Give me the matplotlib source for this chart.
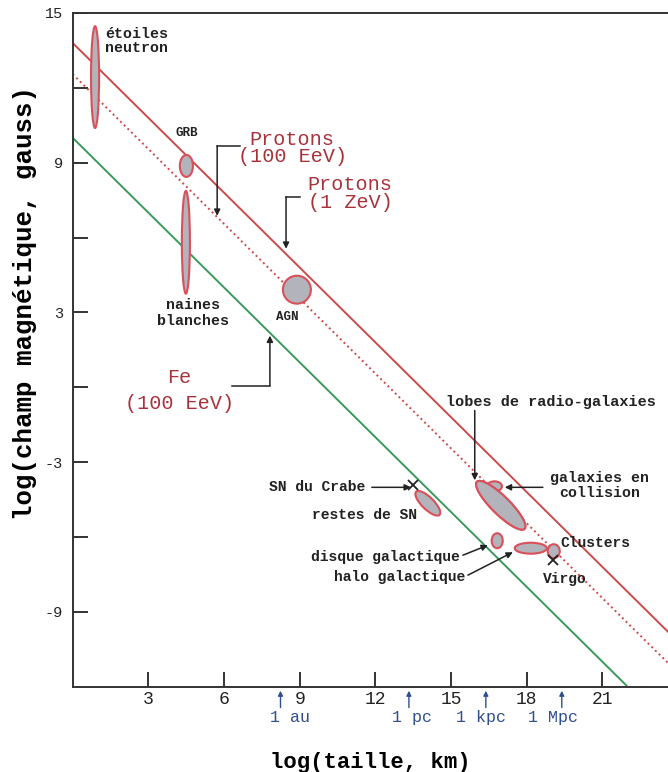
import numpy as np
import matplotlib.pyplot as plt
from matplotlib.patches import Ellipse

plt.rcParams['font.family'] = ['Liberation Mono', 'DejaVu Sans Mono']
plt.rcParams['axes.unicode_minus'] = False

# limits lines: log B = c - log L
line_c = [13.8, 12.55, 10.0]
line_xend = [23.6, 23.6, 21.95]
line_col = ['#cc4a4a', '#cc4a4a', '#3a9a5c']
line_ls = ['-', ':', '-']

# sources (log size, log B, widths, heights, tilt)
src_x = [0.89, 4.51, 4.49, 8.89, 14.08, 16.72, 16.97, 16.83, 18.16, 19.07]
src_y = [12.43, 8.87, 5.81, 3.91, -4.65, -3.97, -4.73, -6.15, -6.45, -6.57]
src_w = [0.32, 0.52, 0.32, 1.11, 1.31, 0.60, 2.67, 0.44, 1.27, 0.48]
src_h = [4.08, 0.88, 4.12, 1.12, 0.48, 0.40, 0.72, 0.60, 0.44, 0.56]
src_a = [0, 0, 0, 0, -45, 0, -45, 0, 0, 0]

cross_x = [13.49, 19.03]
cross_y = [-3.93, -6.93]

# plain labels: text, x, y, ha, size, line spacing
lab_txt = ['étoiles\nneutron', 'GRB', 'naines\nblanches', 'AGN', 'restes de SN',
           'lobes de radio-galaxies', 'galaxies en\ncollision', 'Clusters', 'Virgo']
lab_x = [1.29, 4.54, 4.77, 8.5, 11.58, 18.96, 20.9, 19.35, 19.51]
lab_y = [13.87, 10.19, 2.99, 2.83, -5.13, -0.61, -3.93, -6.25, -7.69]
lab_ha = ['left', 'center', 'center', 'center', 'center', 'center', 'center', 'left', 'center']
lab_fs = [10.8, 9, 10.8, 9, 10.5, 10.9, 10.8, 10.5, 10.5]
lab_ls = [1.0, 1.0, 1.2, 1.0, 1.0, 1.0, 1.05, 1.0, 1.0]

# labels with arrows: text, text end x, y, arrow tail, arrow head
arr_txt = ['SN du Crabe', 'disque galactique', 'halo galactique']
arr_tx = [11.59, 15.35, 15.55]
arr_ty = [-4.01, -6.81, -7.61]
arr_from = [(11.86, -4.01), (15.47, -6.73), (15.67, -7.53)]
arr_to = [(13.41, -4.01), (16.46, -6.33), (17.45, -6.61)]

# plain arrows (lobes, collision)
parr_from = [(15.94, -0.93), (18.64, -4.01)]
parr_to = [(15.94, -3.73), (17.13, -4.01)]

# red labels with elbow arrows
red_txt = ['Protons\n(100 EeV)', 'Protons\n(1 ZeV)', 'Fe\n(100 EeV)']
red_x = [8.7, 11.0, 4.22]
red_y = [9.59, 7.77, -0.13]
red_ls = [0.9, 0.9, 1.45]
elb_x0 = [6.64, 9.01, 6.30]
elb_x = [5.73, 8.46, 7.82]
elb_y = [9.67, 7.63, 0.07]
elb_tip = [6.87, 5.55, 2.07]

# distance units
unit_txt = ['1 au', '1 pc', '1 kpc', '1 Mpc']
unit_pos = [8.24, 13.33, 16.38, 19.39]
unit_lab = [8.61, 13.44, 16.18, 19.03]

fig = plt.figure(figsize=(6.68, 7.72), dpi=100)
ax = fig.add_axes([0.1087, 0.1105, 0.8913, 0.8727])
ax.set_xlim(0, 23.6)
ax.set_ylim(-12, 14.95)

for c, xe, col, ls in zip(line_c, line_xend, line_col, line_ls):
    ax.plot([0, xe], [c, c - xe], color=col, ls=ls, lw=1.4, zorder=2)

for x, y, w, h, a in zip(src_x, src_y, src_w, src_h, src_a):
    ax.add_patch(Ellipse((x, y), w, h, angle=a, fc='#b3b3bb', ec='#d9505a', lw=1.5, zorder=3))
# lobes drawn over the collision blob
ax.add_patch(Ellipse((src_x[6], src_y[6]), src_w[6], src_h[6], angle=-45,
                     fc='#b3b3bb', ec='#d9505a', lw=1.5, zorder=4))

ax.plot(cross_x, cross_y, 'x', color='#222222', ms=7, mew=1.3, zorder=5)

for t, x, y, ha, fs, ls in zip(lab_txt, lab_x, lab_y, lab_ha, lab_fs, lab_ls):
    ax.text(x, y, t, ha=ha, va='center', fontsize=fs, fontweight='bold',
            color='#222222', linespacing=ls, zorder=6)

for t, x, y, p0, p1 in zip(arr_txt, arr_tx, arr_ty, arr_from, arr_to):
    ax.text(x, y, t, ha='right', va='center', fontsize=10.5, fontweight='bold',
            color='#222222', zorder=6)
    ax.annotate('', xy=p1, xytext=p0,
                arrowprops=dict(arrowstyle='-|>', color='#222222', lw=1.1,
                                mutation_scale=9, shrinkA=0, shrinkB=0))

for p0, p1 in zip(parr_from, parr_to):
    ax.annotate('', xy=p1, xytext=p0,
                arrowprops=dict(arrowstyle='-|>', color='#222222', lw=1.1,
                                mutation_scale=9, shrinkA=0, shrinkB=0))

for t, x, y, ls, x0, xe, ye, yt in zip(red_txt, red_x, red_y, red_ls,
                                        elb_x0, elb_x, elb_y, elb_tip):
    ax.text(x, y, t, ha='center', va='center', fontsize=14.5, color='#a8323a',
            linespacing=ls, zorder=6)
    ax.plot([x0, xe], [ye, ye], color='#222222', lw=1.1, zorder=5)
    ax.annotate('', xy=(xe, yt), xytext=(xe, ye),
                arrowprops=dict(arrowstyle='-|>', color='#222222', lw=1.1,
                                mutation_scale=9, shrinkA=0, shrinkB=0))

trans = ax.get_xaxis_transform()
for t, xp, xl in zip(unit_txt, unit_pos, unit_lab):
    ax.annotate('', xy=(xp, -0.006), xytext=(xp, -0.031), xycoords=trans, textcoords=trans,
                arrowprops=dict(arrowstyle='-|>', color='#2f4f8f', lw=1.0,
                                mutation_scale=7, shrinkA=0, shrinkB=0),
                annotation_clip=False)
    ax.text(xl, -0.046, t, transform=trans, ha='center', va='center',
            fontsize=12, color='#2f4f8f')

ax.set_xticks([3, 6, 9, 12, 15, 18, 21])
ax.set_yticks([15, 9, 3, -3, -9])
ax.set_yticks([12, 6, 0, -6], minor=True)
ax.tick_params(which='both', direction='in', length=11, width=1.4, color='#333333',
               labelcolor='#222222')
ax.tick_params(axis='x', pad=3, labelsize=13)
ax.tick_params(axis='y', pad=7, labelsize=11)
ax.spines['right'].set_visible(False)
for s in ['left', 'bottom', 'top']:
    ax.spines[s].set_linewidth(1.4)
    ax.spines[s].set_color('#333333')

ax.set_xlabel('log(taille, km)', fontsize=16, fontweight='bold', labelpad=32)
ax.set_ylabel('log(champ magnétique, gauss)', fontsize=18.5, fontweight='bold')
ax.yaxis.set_label_coords(-0.06, 0.569)

plt.savefig('out.png', dpi=100)
